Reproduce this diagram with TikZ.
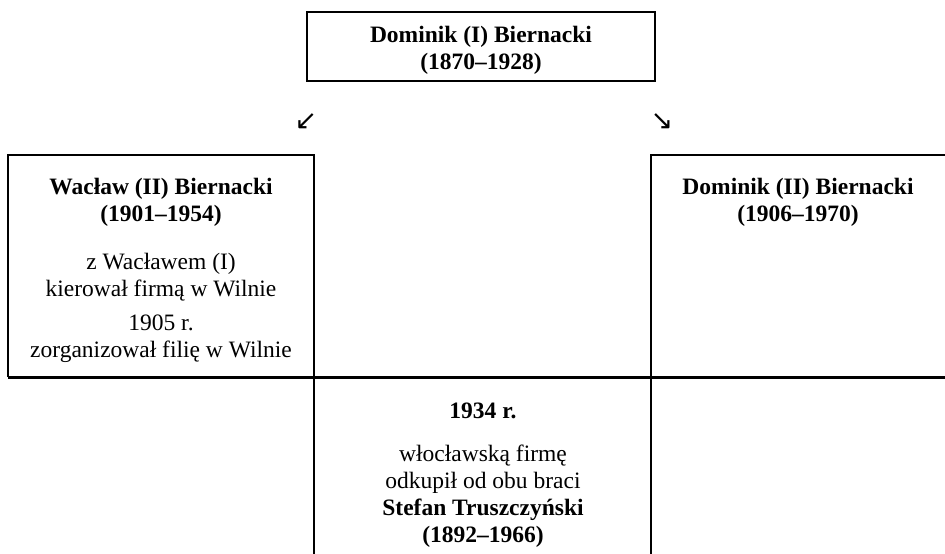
\documentclass[tikz,border=0pt]{standalone}
\usepackage{fontspec}
\setmainfont{Liberation Serif}
\newfontfamily\arrowfont{DejaVu Sans}
\usetikzlibrary{positioning}

\tikzset{
    txt/.style={align=center, inner sep=0pt, anchor=base, font=\fontsize{23.5}{27}\selectfont},
    arr/.style={inner sep=0pt, font=\arrowfont\fontsize{27}{27}\selectfont}
}

\begin{document}
\begin{tikzpicture}[x=1pt, y=-1pt, line width=1.6pt]
    \useasboundingbox (0,0) rectangle (945,554);

    % parent
    \node[draw, minimum width=348pt, minimum height=69pt] (parent) at (481,46.5) {};
    \node[txt] (parenttxt) at (481,69) {\textbf{Dominik (I) Biernacki}\\\textbf{(1870–1928)}};

    \node[arr] (arrl) at (306,122) {↙};
    \node[arr] (arrr) at (662,122) {↘};

    % sons
    \draw (8,377) -- (8,155) -- (314,155) -- (314,554);
    \draw (945,155) -- (651,155) -- (651,554);
    \draw[line width=3pt] (8,377) -- (945,377);

    \node[txt] (waclaw) at (161,357) {\textbf{Wacław (II) Biernacki}\\\textbf{(1901–1954)}\\[21pt]
        z Wacławem (I)\\kierował firmą w Wilnie\\[7pt]
        1905 r.\\zorganizował filię w Wilnie};
    \node[txt] (dominik) at (798,221) {\textbf{Dominik (II) Biernacki}\\\textbf{(1906–1970)}};

    % buyer
    \node[txt] (buyer) at (483,542) {\textbf{1934 r.}\\[16pt]
        włocławską firmę\\odkupił od obu braci\\
        \textbf{Stefan Truszczyński}\\\textbf{(1892–1966)}};
\end{tikzpicture}
\end{document}
